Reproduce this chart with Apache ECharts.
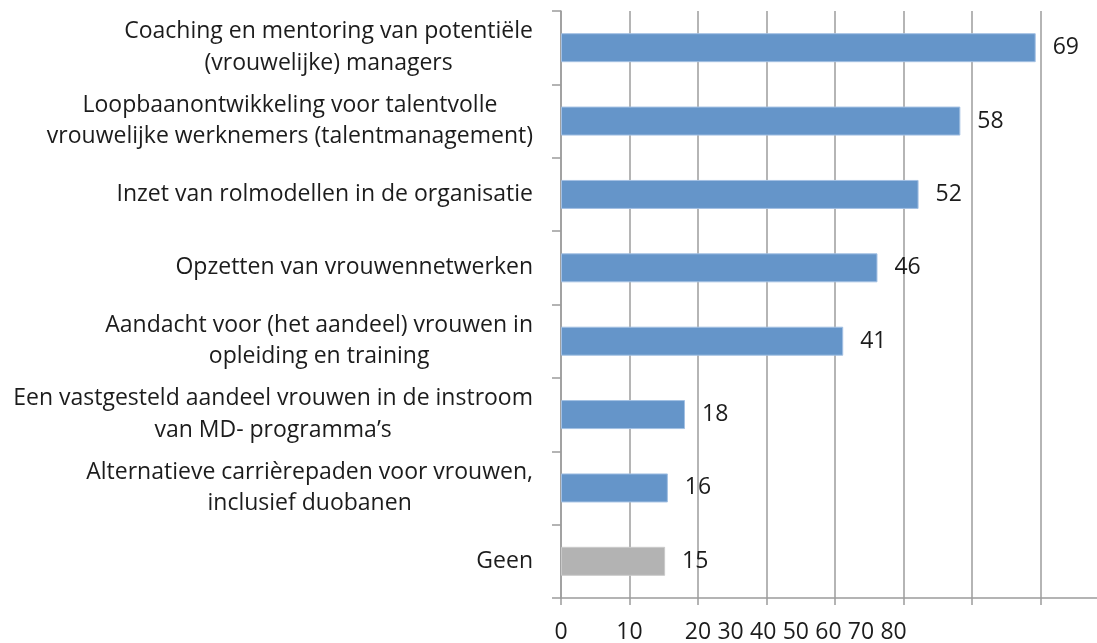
<!DOCTYPE html>
<html><head><meta charset="utf-8">
<script src="https://cdn.jsdelivr.net/npm/echarts@6/dist/echarts.min.js"></script>
<style>html,body{margin:0;padding:0;background:#fff}#c{width:1097px;height:643px}</style>
</head><body><div id="c"></div>
<script>
const categories = [
  'Coaching en mentoring van potentiële\n(vrouwelijke) managers',
  'Loopbaanontwikkeling voor talentvolle\nvrouwelijke werknemers (talentmanagement)',
  'Inzet van rolmodellen in de organisatie',
  'Opzetten van vrouwennetwerken',
  'Aandacht voor (het aandeel) vrouwen in\nopleiding en training',
  'Een vastgesteld aandeel vrouwen in de instroom\nvan MD- programma’s',
  'Alternatieve carrièrepaden voor vrouwen,\ninclusief duobanen',
  'Geen'
];
const values = [69.3, 58.3, 52.2, 46.2, 41.2, 18.1, 15.6, 15.2];
const barColors = ['#6595c9','#6595c9','#6595c9','#6595c9','#6595c9','#6595c9','#6595c9','#b3b3b3'];
const borderColors = ['#a3c0e3','#a3c0e3','#a3c0e3','#a3c0e3','#a3c0e3','#a3c0e3','#a3c0e3','#c9c9c9'];
const mainTickLabels = [0, 10];
const crowdedTickLabels = [20, 30, 40, 50, 60, 70, 80];

const FONT = '"Open Sans", "Noto Sans", sans-serif';
const FS = 23;
const TXT = '#1c1c1c';
const GRID = '#9c9c9c';

// layout
const gridLeft = 561, gridRight = -12;
const chartW = 1097;
const plotW = chartW - gridLeft - gridRight;      // px for 0..80
const pxPerUnit = plotW / 80;
// crowded labels axis: 10 units of label per ~32.6 px, label "20" centred on the 20 gridline
const crowdStep = 32.6 / 10;
const crowdMin = 20 - (20 * pxPerUnit) / crowdStep;
const crowdMax = crowdMin + plotW / crowdStep;

const chart = echarts.init(document.getElementById('c'), null, {renderer: 'canvas'});
chart.setOption({
  animation: false,
  backgroundColor: '#ffffff',
  textStyle: {fontFamily: FONT},
  grid: {left: gridLeft, right: gridRight, top: 11, bottom: 45, containLabel: false, outerBoundsMode: 'none'},
  xAxis: [{
    type: 'value', min: 0, max: 80, interval: 10, position: 'bottom',
    axisLine: {show: true, lineStyle: {color: GRID, width: 1.5}},
    axisTick: {show: true, length: 7, lineStyle: {color: GRID, width: 1.5}},
    splitLine: {show: true, lineStyle: {color: GRID, width: 1.5}},
    axisLabel: {customValues: mainTickLabels, margin: 23, fontSize: FS, color: TXT, fontFamily: FONT}
  }, {
    type: 'value', min: crowdMin, max: crowdMax, position: 'bottom',
    axisLine: {show: false}, axisTick: {show: false}, splitLine: {show: false},
    axisLabel: {customValues: crowdedTickLabels, margin: 23, fontSize: FS, color: TXT, fontFamily: FONT}
  }],
  yAxis: {
    type: 'category', data: categories, inverse: true,
    axisLine: {show: true, lineStyle: {color: GRID, width: 1.5}},
    axisTick: {show: true, length: 9, interval: 0, lineStyle: {color: GRID, width: 1.5}},
    splitLine: {show: false},
    axisLabel: {
      interval: 0, margin: 28, color: TXT, fontSize: FS, fontFamily: FONT, lineHeight: 31.5,
      formatter: v => v.split('\n').map(l => '{c|' + l + '}').join('\n'),
      rich: {c: {align: 'center', fontSize: FS, fontFamily: FONT, color: TXT, lineHeight: 31.5}}
    }
  },
  series: [{
    type: 'bar', xAxisIndex: 0, barWidth: 29,
    data: values.map((v, i) => ({value: v, itemStyle: {color: barColors[i], borderColor: borderColors[i], borderWidth: 1}})),
    label: {show: true, position: 'right', distance: 17, color: TXT, fontSize: FS, fontFamily: FONT,
      formatter: p => String(Math.round(p.value))}
  }]
});
</script></body></html>
